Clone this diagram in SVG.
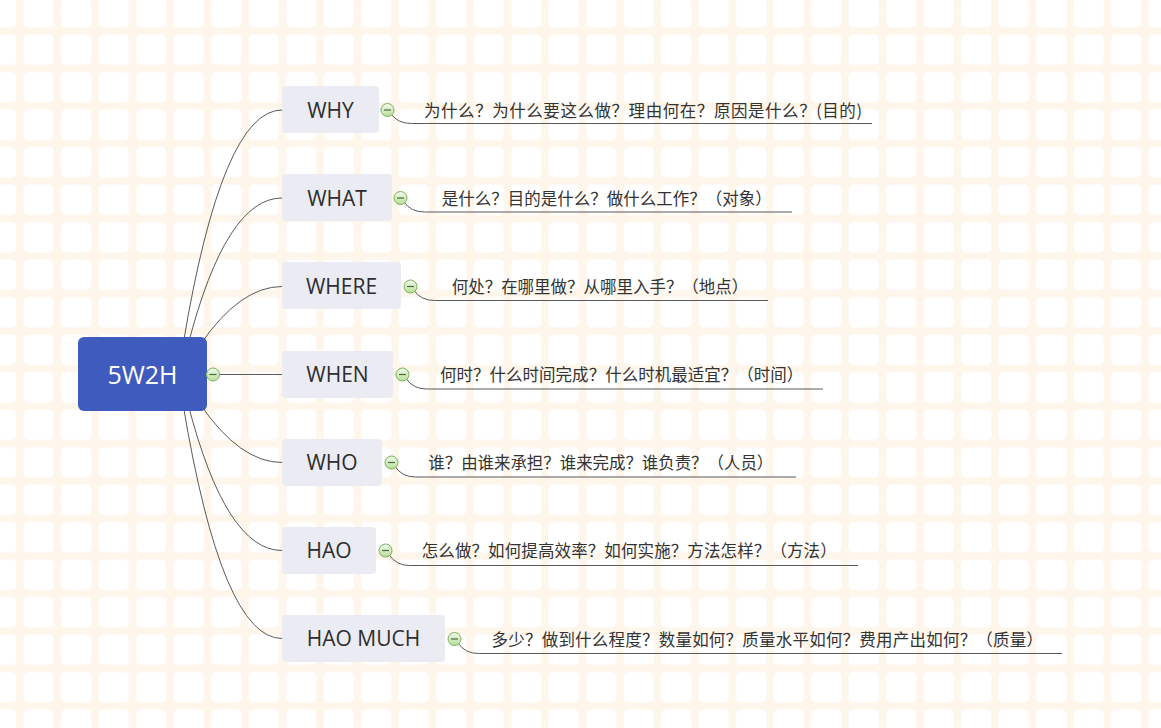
<svg xmlns="http://www.w3.org/2000/svg" width="1161" height="728" viewBox="0 0 1161 728">
<defs>
<pattern id="grid" patternUnits="userSpaceOnUse" x="20" y="31" width="37.5" height="37.5">
<rect width="37.5" height="37.5" fill="#fef5eb"/>
<rect x="3.5" y="3.5" width="30.5" height="30.5" rx="5" fill="#ffffff"/>
</pattern>
<linearGradient id="ig" x1="0" y1="0" x2="0" y2="1">
<stop offset="0" stop-color="#f4fbee"/>
<stop offset="1" stop-color="#b6de98"/>
</linearGradient>
</defs>
<style>
.bg{fill:url(#grid)}
.root{fill:#3f5bbd}
.rootText{font-family:"Open Sans","Noto Sans",sans-serif;font-size:25px;fill:#ffffff;text-anchor:middle}
.node{fill:#ebebf4}
.label{font-family:"Open Sans","Noto Sans",sans-serif;font-size:21px;fill:#2e2e2e;text-anchor:middle}
.desc{font-family:"Noto Sans CJK SC","Noto Sans",sans-serif;font-size:16.5px;fill:#333333}
.conn{fill:none;stroke:#5a5a5a;stroke-width:1}
.icon circle{fill:url(#ig);stroke:#78b35a;stroke-width:1}
.icon line{stroke:#4a6b3c;stroke-width:1.2}
</style>
<rect class="bg" x="0" y="0" width="1161" height="728"/>

<g id="connectors">
<path class="conn" d="M183,345 Q222,110 282,110"/>
<path class="conn" d="M188,345 Q226,198 282,198"/>
<path class="conn" d="M200,345 Q240,286.5 282,286.5"/>
<path class="conn" d="M207,374.5 H282"/>
<path class="conn" d="M200,404 Q240,462.5 282,462.5"/>
<path class="conn" d="M188,404 Q226,550.5 282,550.5"/>
<path class="conn" d="M183,404 Q222,638.5 282,638.5"/>

<path class="conn" d="M391,114 Q398,123.5 411.5,123.5 H872"/>
<path class="conn" d="M404,202 Q411,212 424.5,212 H792"/>
<path class="conn" d="M414,290.5 Q421,300.5 434.5,300.5 H768"/>
<path class="conn" d="M406,378.5 Q413,389 426.5,389 H823"/>
<path class="conn" d="M395,466.5 Q402,477 415.5,477 H796"/>
<path class="conn" d="M389,554.5 Q396,565.5 409.5,565.5 H858"/>
<path class="conn" d="M458,643 Q465,653.5 478.5,653.5 H1062"/>
</g>

<g id="root">
<rect class="root" x="78" y="337" width="129" height="74" rx="6"/>
<text class="rootText" x="142.5" y="383.5">5W2H</text>
<g class="icon"><circle cx="213" cy="374.5" r="6.5"/><line x1="209.5" y1="374.5" x2="216.5" y2="374.5"/></g>
</g>

<g id="why">
<rect class="node" x="282" y="86" width="97" height="47" rx="4"/>
<text class="label" x="330.5" y="117.5">WHY</text>
<g class="icon"><circle cx="387.5" cy="110" r="6.5"/><line x1="384" y1="110" x2="391" y2="110"/></g>
<text class="desc" x="424" y="116.5" textLength="438" lengthAdjust="spacing">为什么？为什么要这么做？理由何在？原因是什么？(目的)</text>
</g>

<g id="what">
<rect class="node" x="282" y="174" width="110" height="47" rx="4"/>
<text class="label" x="337" y="205.5">WHAT</text>
<g class="icon"><circle cx="400.5" cy="198" r="6.5"/><line x1="397" y1="198" x2="404" y2="198"/></g>
<text class="desc" x="441.7" y="204.5" textLength="330" lengthAdjust="spacing">是什么？目的是什么？做什么工作？（对象）</text>
</g>

<g id="where">
<rect class="node" x="282" y="262" width="119" height="47" rx="4"/>
<text class="label" x="341.5" y="293.5">WHERE</text>
<g class="icon"><circle cx="410.5" cy="286.5" r="6.5"/><line x1="407" y1="286.5" x2="414" y2="286.5"/></g>
<text class="desc" x="451.7" y="293" textLength="296.6" lengthAdjust="spacing">何处？在哪里做？从哪里入手？（地点）</text>
</g>

<g id="when">
<rect class="node" x="282" y="351" width="111" height="47" rx="4"/>
<text class="label" x="337.5" y="382">WHEN</text>
<g class="icon"><circle cx="402.5" cy="374.5" r="6.5"/><line x1="399" y1="374.5" x2="406" y2="374.5"/></g>
<text class="desc" x="440" y="381" textLength="363.3" lengthAdjust="spacing">何时？什么时间完成？什么时机最适宜？（时间）</text>
</g>

<g id="who">
<rect class="node" x="282" y="439" width="100" height="47" rx="4"/>
<text class="label" x="332" y="470">WHO</text>
<g class="icon"><circle cx="391.5" cy="462.5" r="6.5"/><line x1="388" y1="462.5" x2="395" y2="462.5"/></g>
<text class="desc" x="428.3" y="469" textLength="345" lengthAdjust="spacing">谁？由谁来承担？谁来完成？谁负责？（人员）</text>
</g>

<g id="hao">
<rect class="node" x="282" y="527" width="94" height="47" rx="4"/>
<text class="label" x="329" y="558">HAO</text>
<g class="icon"><circle cx="385.5" cy="550.5" r="6.5"/><line x1="382" y1="550.5" x2="389" y2="550.5"/></g>
<text class="desc" x="421.7" y="557" textLength="415" lengthAdjust="spacing">怎么做？如何提高效率？如何实施？方法怎样？（方法）</text>
</g>

<g id="haomuch">
<rect class="node" x="282" y="615" width="163" height="47" rx="4"/>
<text class="label" x="363.5" y="646">HAO MUCH</text>
<g class="icon"><circle cx="454.5" cy="639" r="6.5"/><line x1="451" y1="639" x2="458" y2="639"/></g>
<text class="desc" x="491.5" y="645.5" textLength="551.5" lengthAdjust="spacing">多少？做到什么程度？数量如何？质量水平如何？费用产出如何？（质量）</text>
</g>
</svg>
